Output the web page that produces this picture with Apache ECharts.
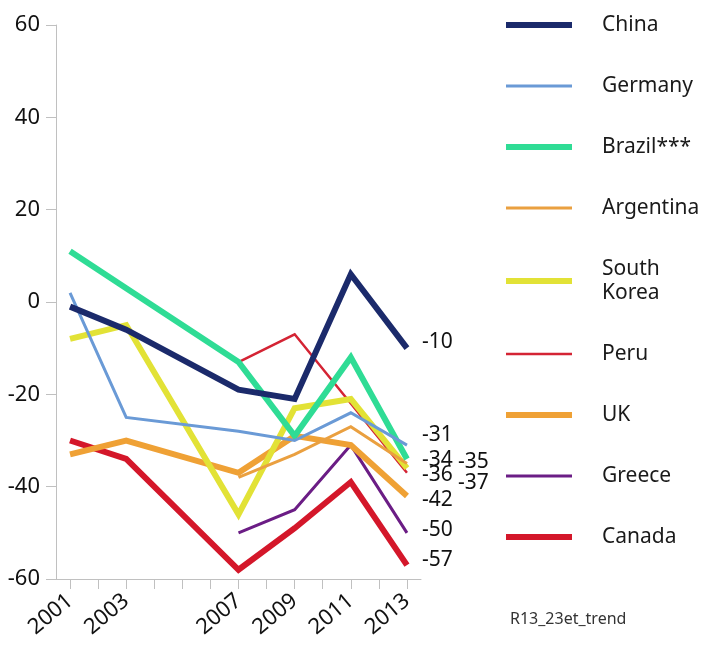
<!DOCTYPE html>
<html><head><meta charset="utf-8">
<script src="https://cdn.jsdelivr.net/npm/echarts@6/dist/echarts.min.js"></script>
<style>html,body{margin:0;padding:0;background:#fff}#c{width:701px;height:650px}</style>
</head><body><div id="c"></div>
<script>
const years = [2001, 2003, 2007, 2009, 2011, 2013];
const labelYears = [2001, 2003, 2007, 2009, 2011, 2013];
const tickYears = [2001,2002,2003,2004,2005,2006,2007,2008,2009,2010,2011,2012,2013];
const yTicks = [-60, -40, -20, 0, 20, 40, 60];

const china     = [-1, -6, -19, -21, 6, -10];
const germany   = [2, -25, -28, -30, -24, -31];
const brazil    = [11, 3, -13, -29, -12, -34];
const argentina = [null, null, -38, -33, -27, -35];
const southKorea= [-8, -5, -46, -23, -21, -36];
const peru      = [null, null, -13, -7, -22, -37];
const uk        = [-33, -30, -37, -29, -31, -42];
const greece    = [null, null, -50, -45, -31, -50];
const canada    = [-30, -34, -58, -49, -39, -57];

const names = ['China','Germany','Brazil***','Argentina','South\nKorea','Peru','UK','Greece','Canada'];
const valuesList = [china, germany, brazil, argentina, southKorea, peru, uk, greece, canada];
const colors = ['#1b2a6b','#6a9ad6','#2fdc95','#eaa040','#e2e236','#d42434','#efa135','#6b1d85','#d4172a'];
const widths = [6, 3, 6, 3, 6, 2.5, 6, 3, 6];
const labelOffsets = [[15,-6],[15,-10],[15,1],[51,-2],[15,7],[51,10],[15,4],[15,-3],[15,-5]];

const FONT = 'Noto Sans';
const series = names.map((n, i) => ({
  name: n,
  type: 'line',
  symbol: 'none',
  data: years.map((y, k) => [y, valuesList[i][k]]).filter(d => d[1] !== null),
  lineStyle: { color: colors[i], width: widths[i], join: 'miter' },
  itemStyle: { color: colors[i] },
  z: 10 - i,
  endLabel: {
    show: true,
    formatter: p => String(p.value[1]),
    fontFamily: FONT, fontSize: 21, color: '#111',
    distance: 0,
    offset: labelOffsets[i]
  }
}));

const chart = echarts.init(document.getElementById('c'));
chart.setOption({
  animation: false,
  backgroundColor: '#fff',
  grid: { left: 56, top: 25, right: 280, bottom: 71 },
  xAxis: {
    type: 'value', min: 2000.5, max: 2013.5,
    splitLine: { show: false },
    axisLine: { onZero: false, lineStyle: { color: '#c0c0c0', width: 1 } },
    axisTick: { show: true, length: 10, customValues: tickYears, lineStyle: { color: '#c0c0c0' } },
    axisLabel: { customValues: labelYears, rotate: 40, formatter: v => String(v),
      fontFamily: FONT, fontSize: 22, color: '#111', margin: 19 }
  },
  yAxis: {
    type: 'value', min: -60, max: 60, interval: 20,
    splitLine: { show: false },
    axisLine: { show: true, lineStyle: { color: '#c0c0c0', width: 1 } },
    axisTick: { show: true, length: 10, lineStyle: { color: '#c0c0c0' } },
    axisLabel: { fontFamily: FONT, fontSize: 22, color: '#111', margin: 16 }
  },
  legend: {
    orient: 'vertical', left: 503, top: 13, padding: 0,
    itemWidth: 66, itemHeight: 14, itemGap: 37,
    itemStyle: { opacity: 0 },
    data: names.map((n, i) => ({ name: n, lineStyle: { width: widths[i] } })),
    textStyle: { fontFamily: FONT, fontSize: 21, lineHeight: 24, color: '#1a1a1a', padding: [0,0,0,25] }
  },
  graphic: [{
    type: 'text', left: 510, top: 611,
    style: { text: 'R13_23et_trend', font: '16px "Noto Sans"', fill: '#333' }
  }],
  series: series
});
</script>
</body></html>
